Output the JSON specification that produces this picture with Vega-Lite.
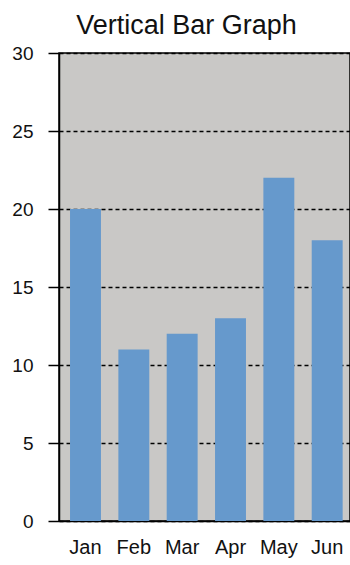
{
  "$schema": "https://vega.github.io/schema/vega-lite/v6.json",
  "autosize": {"type": "none"},
  "width": 291,
  "height": 468,
  "padding": {"left": 59, "top": 53, "right": 0, "bottom": 44},
  "background": "white",
  "title": {
    "text": "Vertical Bar Graph",
    "font": "Liberation Sans",
    "fontSize": 27,
    "fontWeight": "normal",
    "color": "#111111",
    "anchor": "middle",
    "dx": -18,
    "offset": 4
  },
  "data": {
    "values": [
      {"month": "Jan", "value": 20},
      {"month": "Feb", "value": 11},
      {"month": "Mar", "value": 12},
      {"month": "Apr", "value": 13},
      {"month": "May", "value": 22},
      {"month": "Jun", "value": 18}
    ]
  },
  "mark": {"type": "bar", "color": "#6699cc"},
  "encoding": {
    "x": {
      "field": "month",
      "type": "nominal",
      "sort": null,
      "scale": {"paddingInner": 0.36, "paddingOuter": 0.19, "align": 0.6},
      "axis": {
        "title": null,
        "labelAngle": 0,
        "labelFont": "Liberation Sans",
        "labelFontSize": 20,
        "labelColor": "#111111",
        "labelPadding": 16,
        "labelDx": -3,
        "ticks": false,
        "domain": true,
        "domainColor": "#000000",
        "domainWidth": 1.5,
        "grid": false
      }
    },
    "y": {
      "field": "value",
      "type": "quantitative",
      "scale": {"domain": [0, 30]},
      "axis": {
        "title": null,
        "values": [0, 5, 10, 15, 20, 25, 30],
        "labelFont": "Liberation Sans",
        "labelFontSize": 19,
        "labelColor": "#111111",
        "labelPadding": 15,
        "labelDy": 2,
        "tickSize": 11,
        "tickColor": "#000000",
        "tickWidth": 1.5,
        "domainColor": "#000000",
        "domainWidth": 1.5,
        "grid": true,
        "gridColor": "#000000",
        "gridDash": [4, 3],
        "gridWidth": 1.3
      }
    }
  },
  "config": {
    "view": {"fill": "#c9c8c6", "stroke": "#000000", "strokeWidth": 1.5}
  }
}
